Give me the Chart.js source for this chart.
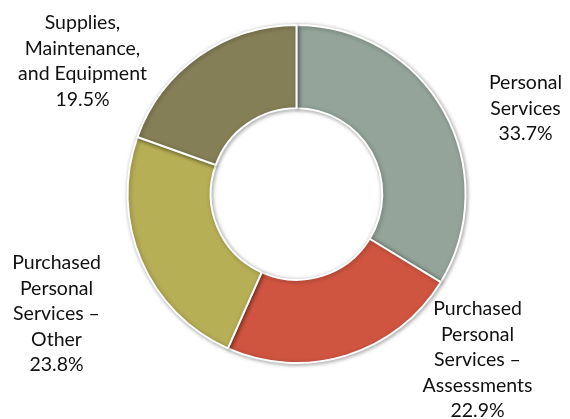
<!DOCTYPE html>
<html>
<head>
<meta charset="utf-8">
<script src="https://cdn.jsdelivr.net/npm/chart.js@4.4.0/dist/chart.umd.min.js"></script>
<style>
  html, body { margin: 0; padding: 0; background: #fff; }
  #wrap { width: 570px; height: 419px; }
</style>
</head>
<body>
<div id="wrap"><canvas id="budgetChart" width="570" height="419"></canvas></div>
<script>
// spending categories, clockwise from 12 o'clock
const categories = [
    ["Personal", "Services"],
    ["Purchased", "Personal", "Services \u2013", "Assessments"],
    ["Purchased", "Personal", "Services \u2013", "Other"],
    ["Supplies,", "Maintenance,", "and Equipment"]
];
const shares = [33.7, 22.9, 23.8, 19.5];
const sliceColors = ['#94a49a', '#d05540', '#b7af55', '#857f57'];

// where each text block sits, measured from the ring centre (first line)
const labelOffsets = [
    { dx: 229, dy: -111 },
    { dx: 181, dy: 115 },
    { dx: -240, dy: 69 },
    { dx: -214, dy: -171 }
];

const ringShadow = {
    id: 'ringShadow',
    beforeDatasetsDraw(chart) {
        const ctx = chart.ctx;
        ctx.save();
        ctx.shadowColor = 'rgba(0, 0, 0, 0.35)';
        ctx.shadowBlur = 4;
        ctx.shadowOffsetX = 1;
        ctx.shadowOffsetY = 1;
    },
    afterDatasetsDraw(chart) {
        chart.ctx.restore();
    }
};

const sliceLabels = {
    id: 'sliceLabels',
    afterDraw(chart) {
        const ctx = chart.ctx;
        const arcs = chart.getDatasetMeta(0).data;
        const cx = arcs[0].x, cy = arcs[0].y;
        const lineH = 25.5;
        ctx.save();
        ctx.font = '19.5px Lato';
        ctx.fillStyle = '#111111';
        ctx.textAlign = 'center';
        ctx.textBaseline = 'middle';
        categories.forEach((lines, i) => {
            const all = lines.concat([shares[i].toFixed(1) + '%']);
            const x = cx + labelOffsets[i].dx;
            const y0 = cy + labelOffsets[i].dy;
            all.forEach((t, j) => ctx.fillText(t, x, y0 + j * lineH));
        });
        ctx.restore();
    }
};

new Chart(document.getElementById('budgetChart'), {
    type: 'doughnut',
    data: {
        labels: categories.map(l => l.join(' ')),
        datasets: [{
            data: shares,
            backgroundColor: sliceColors,
            borderColor: '#ffffff',
            borderWidth: 2,
            radius: 169,
            cutout: 85
        }]
    },
    options: {
        responsive: false,
        animation: false,
        layout: { padding: { top: 25, bottom: 56, left: 128, right: 105 } },
        plugins: {
            legend: { display: false },
            tooltip: { enabled: false }
        }
    },
    plugins: [ringShadow, sliceLabels]
});
</script>
</body>
</html>
